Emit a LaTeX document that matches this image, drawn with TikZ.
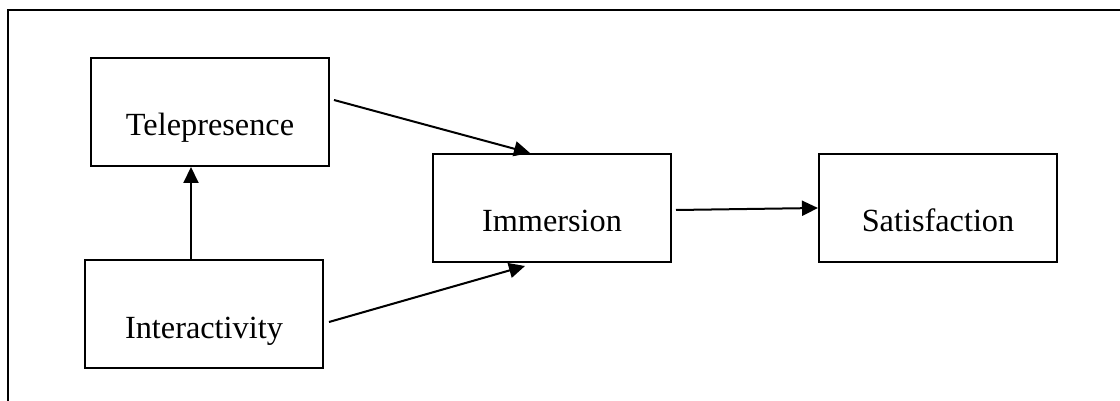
\documentclass[tikz,border=0pt]{standalone}
\usepackage{fontspec}
\setmainfont{Liberation Serif}
\usetikzlibrary{arrows.meta}
\begin{document}
\begin{tikzpicture}[x=1pt,y=-1pt,
  box/.style={draw, line width=2pt, rectangle, inner sep=0pt,
    minimum width=238pt, minimum height=108pt,
    text height=54pt, text depth=6pt,
    font=\fontsize{32.3}{36}\selectfont},
  conn/.style={line width=2pt, -{Triangle[length=16pt,width=15pt]}},
  frame/.style={line width=2.6pt}]
\useasboundingbox (0,0) rectangle (1120,401);
\draw[frame] (8,401) -- (8,10) -- (1120,10);
\node[box] (tele) at (210,112) {Telepresence};
\node[box] (inter) at (204,314) {Interactivity};
\node[box] (imm) at (552,208) {Immersion};
\node[box] (sat) at (938,208) {Satisfaction};
\draw[conn] ([xshift=4pt,yshift=12pt]tele.east) -- ([xshift=-22pt]imm.north);
\draw[conn] ([xshift=5pt,yshift=-8pt]inter.east) -- ([xshift=-27pt,yshift=-3pt]imm.south);
\draw[conn] ([xshift=-13pt]inter.north) -- ([xshift=-19pt]tele.south);
\draw[conn] ([xshift=4pt,yshift=-2pt]imm.east) -- (sat.west);
\end{tikzpicture}
\end{document}
